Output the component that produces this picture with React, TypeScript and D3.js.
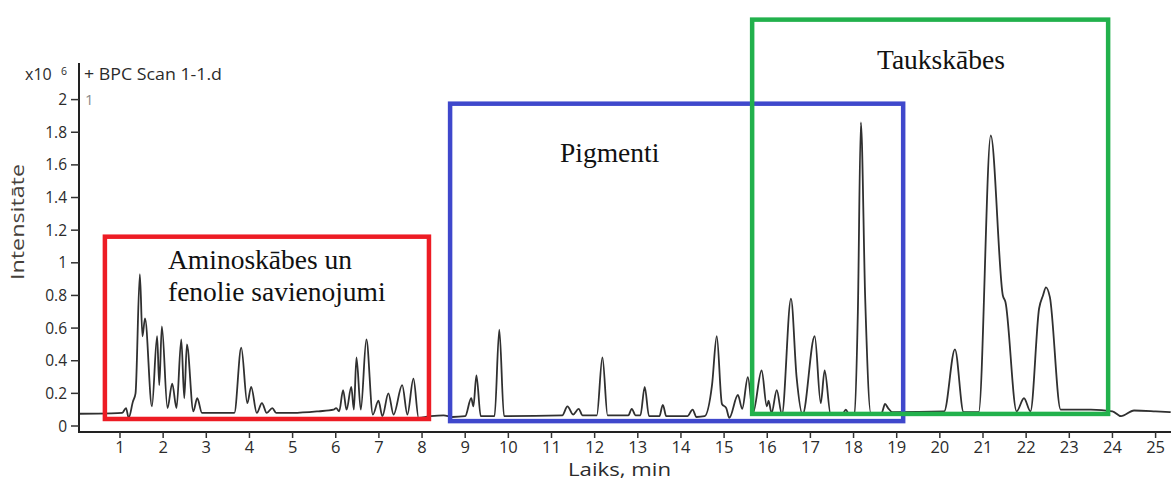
import React from 'react';
import * as d3 from 'd3';

// BPC chromatogram (intensity ×10^6 vs retention time, min)
const retentionTime = [
  0.07, 0.8, 1.05, 1.14, 1.2, 1.3, 1.36, 1.46, 1.52, 1.58, 1.74, 1.86, 1.91, 1.97, 2.1, 2.21, 2.31, 2.42, 2.49, 2.55,
  2.7, 2.79, 2.9, 3.65, 3.81, 3.95, 4.04, 4.17, 4.29, 4.4, 4.53, 4.62, 5.0, 5.6, 5.95, 6.01, 6.08, 6.17, 6.25, 6.36,
  6.42, 6.48, 6.58, 6.71, 6.86, 6.99, 7.08, 7.22, 7.34, 7.54, 7.66, 7.8, 7.92, 8.2, 8.5, 8.7, 9.0, 9.14, 9.19, 9.26,
  9.36, 9.68, 9.79, 9.9, 11.25, 11.37, 11.5, 11.63, 11.72, 12.05, 12.18, 12.3, 12.78, 12.86, 12.95, 13.06, 13.16, 13.26, 13.5, 13.58,
  13.66, 14.15, 14.27, 14.36, 14.55, 14.72, 14.83, 14.95, 15.05, 15.12, 15.32, 15.42, 15.55, 15.67, 15.87, 15.99, 16.03, 16.1, 16.22, 16.34,
  16.55, 16.68, 16.82, 17.1, 17.24, 17.33, 17.47, 17.75, 17.82, 17.9, 18.02, 18.1, 18.17, 18.27, 18.4, 18.65, 18.73, 18.8, 18.9, 20.1,
  20.35, 20.55, 20.9, 21.18, 21.46, 21.52, 21.78, 21.95, 22.1, 22.3, 22.39, 22.46, 22.55, 22.8, 23.5, 24.0, 24.2, 24.5, 25.0, 25.35,
];
const intensity = [
  0.075, 0.077, 0.08, 0.11, 0.05, 0.15, 0.2, 0.93, 0.55, 0.66, 0.12, 0.55, 0.25, 0.61, 0.11, 0.26, 0.11, 0.53, 0.17, 0.5,
  0.09, 0.17, 0.08, 0.08, 0.48, 0.14, 0.24, 0.08, 0.14, 0.08, 0.11, 0.08, 0.08, 0.09, 0.1, 0.11, 0.09, 0.22, 0.1, 0.24,
  0.1, 0.42, 0.1, 0.53, 0.07, 0.155, 0.06, 0.2, 0.07, 0.25, 0.07, 0.29, 0.05, 0.06, 0.065, 0.055, 0.06, 0.17, 0.12, 0.31,
  0.06, 0.06, 0.59, 0.06, 0.065, 0.12, 0.07, 0.105, 0.065, 0.065, 0.42, 0.065, 0.065, 0.105, 0.065, 0.065, 0.24, 0.06, 0.06, 0.13,
  0.06, 0.06, 0.1, 0.055, 0.06, 0.25, 0.55, 0.135, 0.11, 0.05, 0.19, 0.105, 0.3, 0.08, 0.34, 0.12, 0.155, 0.08, 0.22, 0.07,
  0.78, 0.3, 0.07, 0.55, 0.14, 0.34, 0.07, 0.075, 0.1, 0.07, 0.08, 0.7, 1.86, 0.78, 0.08, 0.08, 0.135, 0.11, 0.085, 0.09,
  0.47, 0.085, 0.085, 1.78, 0.8, 0.76, 0.09, 0.17, 0.09, 0.72, 0.8, 0.85, 0.79, 0.1, 0.1, 0.09, 0.06, 0.095, 0.09, 0.085,
];

const yTickValues = [0, 0.2, 0.4, 0.6, 0.8, 1, 1.2, 1.4, 1.6, 1.8, 2];
const xTickValues = [1, 2, 3, 4, 5, 6, 7, 8, 9, 10, 11, 12, 13, 14, 15, 16, 17, 18, 19, 20, 21, 22, 23, 24, 25];

// Highlighted compound groups: time window (min) and intensity window (×10^6)
const regionNames = ['Aminoskābes un fenolie savienojumi', 'Pigmenti', 'Taukskābes'];
const regionStart = [0.65, 8.65, 15.65];
const regionEnd = [8.16, 19.15, 23.9];
const regionLow = [0.043, 0.03, 0.074];
const regionHigh = [1.16, 1.975, 2.49];

const regionColors = ['#ed1c24', '#3f48cc', '#22b14c'];
// label placement (px) and line breaks for each region
const regionLabelLines = [['Aminoskābes un', 'fenolie savienojumi'], ['Pigmenti'], ['Taukskābes']];
const regionLabelPos = [
  { x: 168, y: 269 },
  { x: 560, y: 162 },
  { x: 877, y: 69 },
];

const W = 1171;
const H = 480;
const axisFont = '"Open Sans", "Noto Sans", sans-serif';
const serif = '"Liberation Serif", "Times New Roman", serif';
const textColor = '#2b2b2b';

export default function App() {
  const x = d3.scaleLinear().domain([0, 25.35]).range([76.85, 1170.7]);
  const y = d3.scaleLinear().domain([0, 2]).range([426, 99.6]);
  const axisLeft = 79;
  const axisBottom = 432;

  const points: [number, number][] = retentionTime.map((t, i) => [t, intensity[i]]);
  const line = d3
    .line<[number, number]>()
    .x((d) => x(d[0]))
    .y((d) => y(d[1]))
    .curve(d3.curveMonotoneX);

  return (
    <svg
      width={W}
      height={H}
      viewBox={`0 0 ${W} ${H}`}
      style={{ position: 'absolute', left: 0, top: 0, background: '#fff' }}
    >
      <rect x={0} y={0} width={W} height={H} fill="#fff" />

      {/* trace */}
      <path d={line(points) || ''} fill="none" stroke="#303030" strokeWidth={1.8} strokeLinejoin="round" />

      {/* axes */}
      <line x1={axisLeft} x2={axisLeft} y1={63} y2={axisBottom + 1} stroke="#222" strokeWidth={2} />
      <line x1={axisLeft - 1} x2={W} y1={axisBottom} y2={axisBottom} stroke="#222" strokeWidth={2} />

      {yTickValues.map((v) => (
        <g key={`y${v}`}>
          <line x1={71} x2={axisLeft} y1={y(v)} y2={y(v)} stroke="#333" strokeWidth={1.5} />
          <text
            x={67}
            y={y(v)}
            dy="0.36em"
            textAnchor="end"
            fontFamily={axisFont}
            fontSize={15.5}
            fill={textColor}
          >
            {String(+v.toFixed(1))}
          </text>
        </g>
      ))}

      {xTickValues.map((t) => (
        <g key={`x${t}`}>
          <line x1={x(t)} x2={x(t)} y1={axisBottom} y2={axisBottom + 6} stroke="#333" strokeWidth={1.5} />
          <text
            x={x(t)}
            y={453}
            textAnchor="middle"
            fontFamily={axisFont}
            fontSize={16.5}
            fill={textColor}
          >
            {t}
          </text>
        </g>
      ))}

      {/* axis titles */}
      <text
        x={568}
        y={476}
        fontFamily={axisFont}
        fontSize={17.5}
        textLength={103}
        lengthAdjust="spacingAndGlyphs"
        fill={textColor}
      >
        Laiks, min
      </text>
      <text
        transform={`translate(${24},${222}) rotate(-90)`}
        textAnchor="middle"
        fontFamily={axisFont}
        fontSize={18}
        textLength={116}
        lengthAdjust="spacingAndGlyphs"
        fill="#45403a"
      >
        Intensitāte
      </text>

      {/* scale multiplier and trace name */}
      <text x={25} y={80} fontFamily={axisFont} fontSize={16} fill={textColor}>
        x10
      </text>
      <text x={61} y={75} fontFamily={axisFont} fontSize={10.5} fill={textColor}>
        6
      </text>
      <text
        x={84}
        y={80}
        fontFamily={axisFont}
        fontSize={16.5}
        textLength={138}
        lengthAdjust="spacingAndGlyphs"
        fill={textColor}
      >
        + BPC Scan 1-1.d
      </text>
      <text x={85} y={105} fontFamily={axisFont} fontSize={15} fill="#8a8a8a">
        1
      </text>

      {/* region boxes */}
      {regionNames.map((name, i) => (
        <g key={name}>
          <rect
            x={x(regionStart[i])}
            y={y(regionHigh[i])}
            width={x(regionEnd[i]) - x(regionStart[i])}
            height={y(regionLow[i]) - y(regionHigh[i])}
            fill="none"
            stroke={regionColors[i]}
            strokeWidth={4.5}
          />
          {regionLabelLines[i].map((ln, j) => (
            <text
              key={ln}
              x={regionLabelPos[i].x}
              y={regionLabelPos[i].y + j * 32}
              fontFamily={serif}
              fontSize={27.5}
              fill="#111"
            >
              {ln}
            </text>
          ))}
        </g>
      ))}
    </svg>
  );
}
